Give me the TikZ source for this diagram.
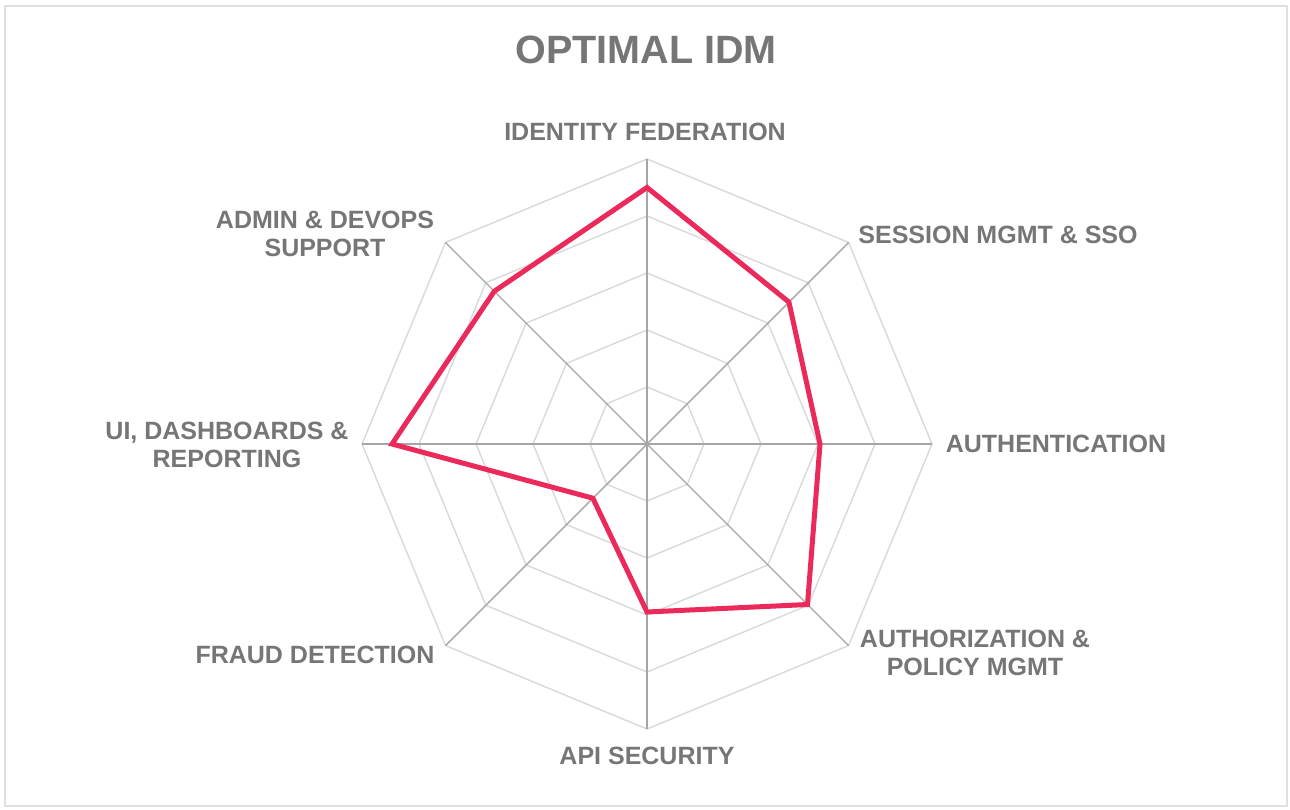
\documentclass[tikz,border=0pt]{standalone}
\usepackage{fontspec}
\setmainfont{Liberation Sans}
\usetikzlibrary{calc}
\definecolor{txtgray}{HTML}{767676}
\definecolor{spokegray}{HTML}{A6A6A6}
\definecolor{ringgray}{HTML}{D9D9D9}
\definecolor{framegray}{HTML}{DDE0E4}
\definecolor{datared}{HTML}{EB2A5B}
\tikzset{
  lbl/.style={text=txtgray, font=\fontsize{25}{28.5}\selectfont\bfseries, align=center, inner sep=0pt},
  ttl/.style={text=txtgray, font=\fontsize{39.5}{44}\selectfont\bfseries, inner sep=0pt},
  spoke/.style={draw=spokegray, line width=1.4pt},
  ring/.style={draw=ringgray, line width=1.4pt},
  series/.style={draw=datared, line width=5pt, line join=miter},
}
\begin{document}
\begin{tikzpicture}[x=1pt,y=1pt]
\useasboundingbox (0,0) rectangle (1290,-810);
\fill[white] (0,0) rectangle (1290,-810);
\draw[framegray, line width=2pt] (5,-6) rectangle (1287,-806);
\coordinate (c) at (647,-444);
% rings
\foreach \r in {57,114,171,228,285}{
  \draw[ring] ($(c)+(90:\r)$) \foreach \a in {45,0,-45,-90,-135,180,135}{ -- ($(c)+(\a:\r)$)} -- cycle;
}
% spokes
\foreach \a/\n in {90/a1,45/a2,0/a3,-45/a4,-90/a5,-135/a6,180/a7,135/a8}{
  \coordinate (\n) at ($(c)+(\a:285)$);
  \draw[spoke] (c) -- (\n);
}
% data
\coordinate (p1) at ($(c)+(90:256.5)$);
\coordinate (p2) at ($(c)+(45:200.7)$);
\coordinate (p3) at ($(c)+(0:173)$);
\coordinate (p4) at ($(c)+(-45:227)$);
\coordinate (p5) at ($(c)+(-90:168)$);
\coordinate (p6) at ($(c)+(-135:76.6)$);
\coordinate (p7) at ($(c)+(180:255)$);
\coordinate (p8) at ($(c)+(135:216)$);
\draw[series] (p1) -- (p2) -- (p3) -- (p4) -- (p5) -- (p6) -- (p7) -- (p8) -- cycle;
% labels
\node[ttl] (title) at (646,-50) {OPTIMAL IDM};
\node[lbl] (l1) at (645,-132) {IDENTITY FEDERATION};
\node[lbl] (l2) at (998,-235) {SESSION MGMT \& SSO};
\node[lbl] (l3) at (1056,-444) {AUTHENTICATION};
\node[lbl] (l4) at (975,-653) {AUTHORIZATION \&\\POLICY MGMT};
\node[lbl] (l5) at (647,-756) {API SECURITY};
\node[lbl] (l6) at (315,-655) {FRAUD DETECTION};
\node[lbl] (l7) at (227,-445) {UI, DASHBOARDS \&\\REPORTING};
\node[lbl] (l8) at (325,-234) {ADMIN \& DEVOPS\\SUPPORT};
\end{tikzpicture}
\end{document}
